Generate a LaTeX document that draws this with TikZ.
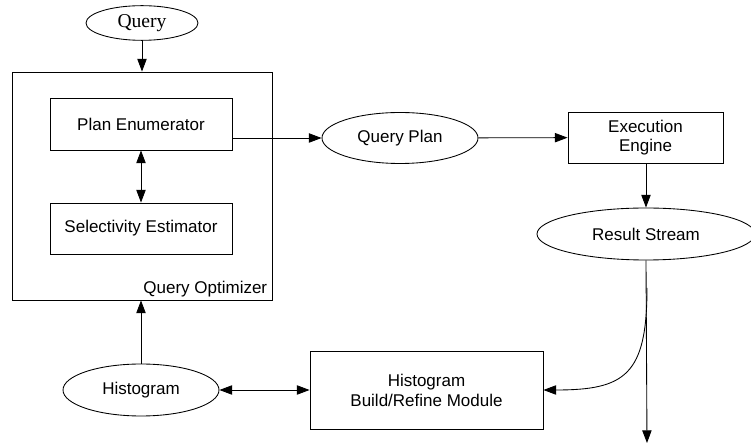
\documentclass[tikz,border=0pt]{standalone}
\usepackage{fontspec}
\setmainfont{Liberation Sans}
\newfontfamily\serifq{Liberation Serif}
\usetikzlibrary{shapes.geometric,arrows.meta}

\begin{document}
\begin{tikzpicture}[x=0.75pt,y=-0.75pt,
  every node/.style={inner sep=0pt,font=\fontsize{12.75}{14.5}\selectfont,align=center},
  box/.style={draw,rectangle,line width=0.65pt},
  oval/.style={draw,ellipse,line width=0.65pt},
  conn/.style={line width=0.65pt,-{Triangle[length=9.5pt,width=7pt]}},
  biconn/.style={line width=0.65pt,{Triangle[length=9.5pt,width=7pt]}-{Triangle[length=9.5pt,width=7pt]}}]
  \clip (0,0) rectangle (751,445);
  \useasboundingbox (0,0) rectangle (751,445);

  % optimizer and its parts
  \node[oval,minimum width=84pt,minimum height=26pt,font=\serifq\fontsize{14.7}{16}\selectfont] (query) at (142,23) {Query};
  \node[box,minimum width=195pt,minimum height=171pt] (opt) at (142,186) {};
  \node[box,minimum width=136.5pt,minimum height=39pt] (plan) at (141,124) {Plan Enumerator};
  \node[box,minimum width=136.5pt,minimum height=38.25pt] (sel) at (141,228.5) {Selectivity Estimator};
  \node[anchor=base east] (optlabel) at ([xshift=-3.75pt,yshift=5.25pt]opt.south east) {Query Optimizer};

  % plan execution
  \node[oval,minimum width=117pt,minimum height=38.25pt] (qplan) at (400,138) {Query Plan};
  \node[box,minimum width=116.25pt,minimum height=38.25pt] (exec) at (645.5,137.5) {Execution\\Engine};
  \node[oval,minimum width=163.5pt,minimum height=39pt] (result) at (646,234) {Result Stream};

  % histogram feedback
  \node[oval,minimum width=117pt,minimum height=39pt] (hist) at (141,390) {Histogram};
  \node[box,minimum width=174.75pt,minimum height=58.5pt,font=\fontsize{12.75}{15}\selectfont] (build) at (426.5,390) {Histogram\\Build/Refine Module};

  \coordinate (branch) at (647,288);
  \coordinate (outlet) at (647,443);

  % connectors
  \draw[conn] (query) -- (opt.north);
  \draw[biconn] (plan) -- (sel);
  \draw[conn] (qplan.west -| plan.east) -- (qplan.west);
  \draw[conn] (qplan) -- (exec);
  \draw[conn] (exec.south -| result.south) -- (result.north);
  \draw[conn] (hist.north) -- (hist.north |- opt.south);
  \draw[biconn] (hist) -- (build);
  \draw[conn] (result.south) -- (outlet);
  \draw[conn] (branch) .. controls (647,375) and (625,390) .. (build.east);
\end{tikzpicture}
\end{document}
